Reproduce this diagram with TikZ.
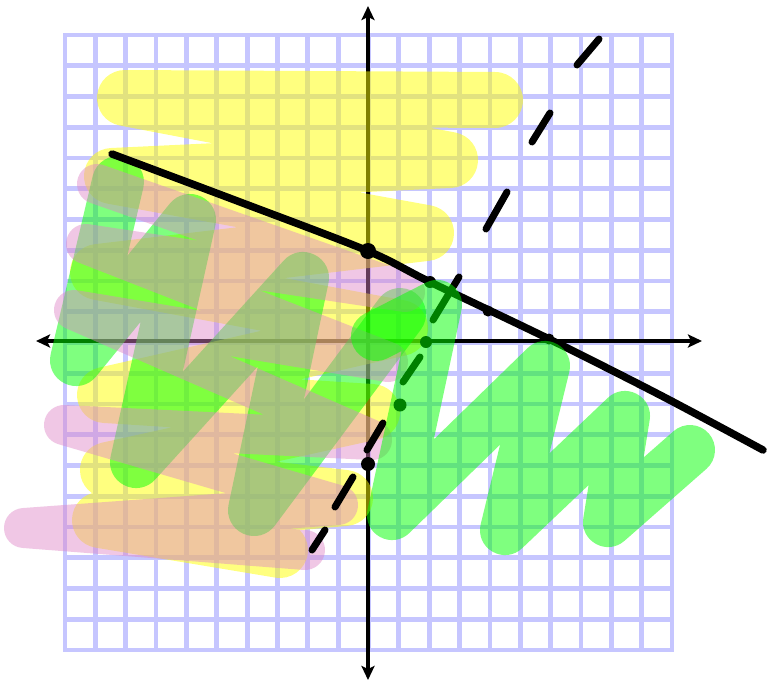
\documentclass[tikz,border=0pt]{standalone}
\usetikzlibrary{arrows.meta}
\definecolor{gridc}{RGB}{198,198,255}
\definecolor{hlyellow}{RGB}{255,255,0}
\definecolor{hlpink}{RGB}{222,133,199}
\definecolor{hlgreen}{RGB}{0,255,0}
\begin{document}
\begin{tikzpicture}[x=1pt,y=-1pt,
  gridline/.style={draw=gridc,line width=4.8pt,line cap=rect},
  axisline/.style={line width=4.8pt,{Stealth[length=14pt,width=13pt,inset=3pt]}-{Stealth[length=14pt,width=13pt,inset=3pt]}},
  hl/.style={line width=#1,line cap=round,line join=round,opacity=0.5},
  curveline/.style={line width=7.5pt,line cap=round,line join=round},
  dashpiece/.style={line width=7pt,line cap=round},
  bigdot/.style={fill=black}]
\useasboundingbox (0,0) rectangle (775,680);
\fill[white] (0,0) rectangle (775,680);
% grid
\foreach \i in {0,...,20}{
  \draw[gridline] ({65+\i*30.35},35) -- ({65+\i*30.35},650);
  \draw[gridline] (65,{35+\i*30.75}) -- (672,{35+\i*30.75});
}
% axes
\coordinate (xl) at (36,341);
\coordinate (xr) at (702,341);
\coordinate (yt) at (368,6);
\coordinate (yb) at (368,680);
\draw[axisline] (xl) -- (xr);
\draw[axisline] (yb) -- (yt);
% yellow highlight
\draw[hl=56pt,draw=hlyellow] (495,100) -- (125,98) -- (450,160) -- (112,176) -- (426,233) -- (98,272) -- (400,328) -- (105,395) -- (372,412) -- (108,470) -- (345,498) -- (100,520) -- (280,550);
% left green highlight (under the pink)
\draw[hl=52pt,draw=hlgreen] (118,182) -- (76,360) -- (190,220) -- (136,462) -- (303,278) -- (254,510) -- (400,314);
% pink highlight
\draw[hl=40pt,draw=hlpink,opacity=0.45] (97,184) -- (405,292) -- (86,244) -- (388,362) -- (74,310) -- (372,440) -- (64,425) -- (338,505) -- (24,528) -- (305,550);
% solid curve
\draw[curveline] plot[smooth,tension=0.5] coordinates {(112,154) (240,202) (368,251) (430,282) (549,339) (660,395) (763,450)};
\coordinate (c1) at (368,251);
\coordinate (c2) at (430,282);
\coordinate (c3) at (488,311);
\coordinate (c4) at (549,339);
\fill[bigdot] (c1) circle (8pt);
\fill[bigdot] (c2) circle (6pt);
\fill[bigdot] (c3) circle (5.5pt);
\fill[bigdot] (c4) circle (5.5pt);
% dashed curve
\draw[dashpiece] (599,39) -- (577,65);
\draw[dashpiece] (550,113) -- (532,142);
\draw[dashpiece] (507,192) -- (486,229);
\draw[dashpiece] (459,277) -- (433,320);
\draw[dashpiece] (420,357) -- (403,382);
\draw[dashpiece] (383,423) -- (367,450);
\draw[dashpiece] (353,477) -- (335,507);
\draw[dashpiece] (325,530) -- (312,550);
\coordinate (d1) at (426,342);
\coordinate (d2) at (400,405);
\coordinate (d3) at (368,464);
\fill[bigdot] (d1) circle (6pt);
\fill[bigdot] (d2) circle (6.5pt);
\fill[bigdot] (d3) circle (7pt);
% right green highlight (on top)
\draw[hl=50pt,draw=hlgreen] (376,336) -- (437,305) -- (392,515) -- (545,366) -- (505,530) -- (625,416) -- (608,522) -- (690,450);
\end{tikzpicture}
\end{document}
